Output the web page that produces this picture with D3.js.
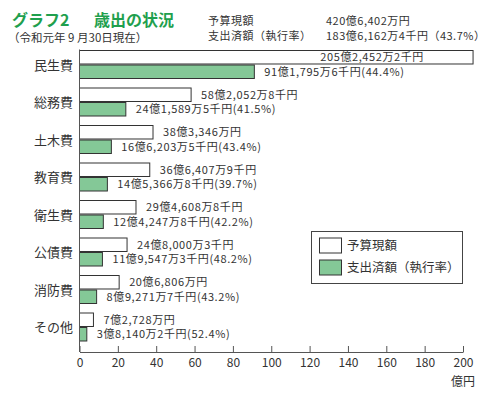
<!DOCTYPE html>
<html><head><meta charset="utf-8">
<script src="https://cdn.jsdelivr.net/npm/d3@7"></script>
<style>
html,body{margin:0;padding:0;background:#fff;}
text{font-family:"Noto Sans CJK JP","Noto Sans",sans-serif;fill:#333;}
</style></head>
<body><svg id="c" width="494" height="393"></svg>
<script>
const categories = ["民生費","総務費","土木費","教育費","衛生費","公債費","消防費","その他"];
const budget = [205.2452, 58.2052, 38.3346, 36.6407, 29.4608, 24.8000, 20.6806, 7.2728];
const spent  = [91.1795, 24.1589, 16.6203, 14.5366, 12.4247, 11.9547, 8.9271, 3.8140];
const budgetLabels = ["205億2,452万2千円","58億2,052万8千円","38億3,346万円","36億6,407万9千円","29億4,608万8千円","24億8,000万3千円","20億6,806万円","7億2,728万円"];
const spentLabels = ["91億1,795万6千円(44.4%)","24億1,589万5千円(41.5%)","16億6,203万5千円(43.4%)","14億5,366万8千円(39.7%)","12億4,247万8千円(42.2%)","11億9,547万3千円(48.2%)","8億9,271万7千円(43.2%)","3億8,140万2千円(52.4%)"];
const xTicks = [0,20,40,60,80,100,120,140,160,180,200];
const seriesNames = ["予算現額","支出済額（執行率）"];

const svg = d3.select("#c");
const green = "#84c897";
const stroke = "#333";

// Title
svg.append("text").attr("x",12).attr("y",26).attr("font-size",16).attr("font-weight","bold")
  .style("fill","#1fa04e").text("グラフ2");
svg.append("text").attr("x",94).attr("y",26).attr("font-size",16).attr("font-weight","bold")
  .style("fill","#1fa04e").text("歳出の状況");
svg.append("text").attr("x",8).attr("y",42).attr("font-size",11.5).text("（令和元年 9 月30日現在）");
const hdr = (xx,yy,t)=>svg.append("text").attr("x",xx).attr("y",yy).attr("font-size",11)
  .attr("letter-spacing","0.5px").text(t);
hdr(208,25,"予算現額");
hdr(326,25,"420億6,402万円");
hdr(208,40,"支出済額（執行率）");
hdr(326,40,"183億6,162万4千円（43.7%）");

const x = d3.scaleLinear().domain([0,200]).range([79.5,463]);
const y = d3.scaleBand().domain(categories).range([49.5,349.5]);
const ySub = d3.scaleBand().domain(["b","s"]).range([1,29]).paddingInner(0.07);
const axisY = 352;

const g = svg.append("g");
categories.forEach((c,i)=>{
  const y0 = y(c);
  g.append("rect").attr("x",x(0)).attr("y",y0+ySub("b"))
    .attr("width",x(budget[i])-x(0)).attr("height",ySub.bandwidth())
    .attr("fill","#fff").attr("stroke",stroke).attr("stroke-width",1);
  g.append("rect").attr("x",x(0)).attr("y",y0+ySub("s"))
    .attr("width",x(spent[i])-x(0)).attr("height",ySub.bandwidth())
    .attr("fill",green).attr("stroke",stroke).attr("stroke-width",1);
  g.append("text").attr("x",73).attr("y",y0+ySub("s")).attr("dy","0.36em")
    .attr("text-anchor","end").attr("font-size",13).text(c);
  const bEnd = x(budget[i]);
  const inside = bEnd + 110 > 494;
  g.append("text")
    .attr("x", inside ? x(150)+5 : bEnd+10)
    .attr("text-anchor", inside ? "middle" : "start")
    .attr("y",y0+ySub("b")+ySub.bandwidth()/2).attr("dy","0.36em")
    .attr("font-size",11).attr("letter-spacing","0.6px").text(budgetLabels[i]);
  g.append("text").attr("x",x(spent[i])+10)
    .attr("y",y0+ySub("s")+ySub.bandwidth()/2).attr("dy","0.36em")
    .attr("font-size",11).attr("letter-spacing","0.6px").text(spentLabels[i]);
});

// axes
const axis = svg.append("g").attr("transform",`translate(0,${axisY})`)
  .call(d3.axisBottom(x).tickValues(xTicks).tickSize(0).tickPadding(6).tickFormat(d3.format("d")));
axis.select(".domain").attr("stroke","#555");
axis.selectAll(".tick text").attr("font-size",12).style("fill","#333").attr("font-family",null);
axis.selectAll(".tick").append("line").attr("y1",0).attr("y2",-6).attr("stroke","#555");
svg.append("line").attr("x1",x(0)).attr("x2",x(0)).attr("y1",49.5).attr("y2",axisY).attr("stroke","#555");
svg.append("text").attr("x",x(200)).attr("y",386).attr("text-anchor","middle").attr("font-size",12).text("億円");

// legend
const lg = svg.append("g");
lg.append("rect").attr("x",311.5).attr("y",231.5).attr("width",151).attr("height",52)
  .attr("fill","#fff").attr("stroke","#444");
[["#fff",238],[green,260]].forEach((d,i)=>{
  lg.append("rect").attr("x",319.5).attr("y",d[1]).attr("width",22).attr("height",15)
    .attr("fill",d[0]).attr("stroke",stroke);
  lg.append("text").attr("x",347).attr("y",d[1]+7.5).attr("dy","0.36em").attr("font-size",12.5).text(seriesNames[i]);
});
</script></body></html>
